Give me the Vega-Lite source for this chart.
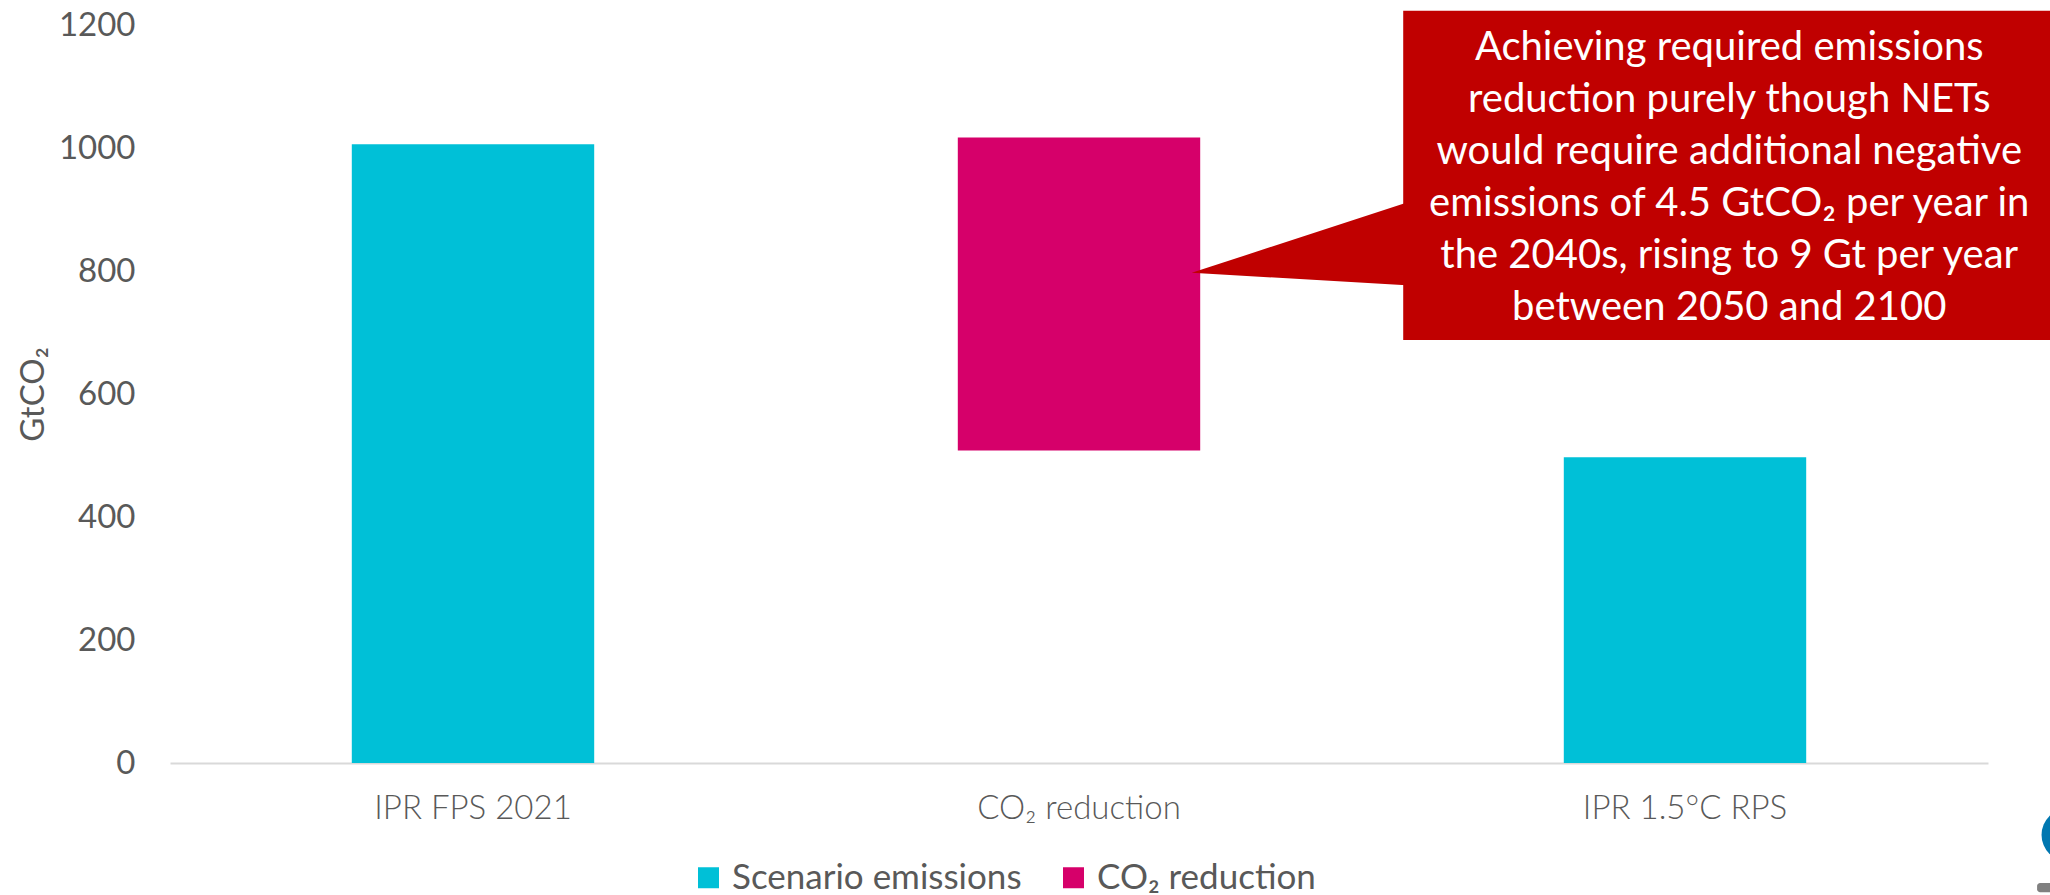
{
  "$schema": "https://vega.github.io/schema/vega-lite/v6.json",
  "autosize": {"type": "none"},
  "width": 1818,
  "height": 738,
  "padding": {"left": 170, "top": 25, "right": 62, "bottom": 132},
  "background": "white",
  "config": {
    "view": {"stroke": null},
    "font": "Lato",
    "axis": {"labelFont": "Lato", "titleFont": "Lato"},
    "legend": {"labelFont": "Lato"}
  },
  "layer": [
    {
      "data": {
        "values": [
          {"category": "IPR FPS 2021", "series": "Scenario emissions", "start": 0, "end": 1006},
          {"category": "CO₂ reduction", "series": "CO₂ reduction", "start": 508, "end": 1017},
          {"category": "IPR 1.5°C RPS", "series": "Scenario emissions", "start": 0, "end": 497}
        ]
      },
      "mark": {"type": "bar"},
      "encoding": {
        "x": {
          "field": "category",
          "type": "nominal",
          "sort": null,
          "scale": {"paddingInner": 0.6, "paddingOuter": 0.3},
          "axis": {
            "title": null,
            "labelAngle": 0,
            "labelFontSize": 33,
            "labelFontWeight": 300,
            "labelColor": "#595959",
            "labelPadding": 29,
            "labelLimit": 0,
            "ticks": false,
            "domainColor": "#d9d9d9",
            "domainWidth": 2,
            "grid": false
          }
        },
        "y": {
          "field": "start",
          "type": "quantitative",
          "scale": {"domain": [0, 1200], "nice": false, "zero": true},
          "axis": {
            "title": "GtCO₂",
            "values": [0, 200, 400, 600, 800, 1000, 1200],
            "format": "d",
            "grid": false,
            "domain": false,
            "ticks": false,
            "labelFontSize": 33,
            "labelColor": "#595959",
            "labelPadding": 35,
            "titleFontSize": 33,
            "titleFontWeight": "normal",
            "titleColor": "#595959",
            "titleX": -137,
            "titleY": 369,
            "titleAngle": -90,
            "titleAlign": "center",
            "titleBaseline": "middle"
          }
        },
        "y2": {"field": "end"},
        "color": {
          "field": "series",
          "type": "nominal",
          "scale": {"domain": ["Scenario emissions", "CO₂ reduction"], "range": ["#00c0d7", "#d6006a"]},
          "legend": {
            "title": null,
            "orient": "none",
            "direction": "horizontal",
            "legendX": 521,
            "legendY": 835,
            "symbolType": "square",
            "symbolSize": 441,
            "symbolStrokeWidth": 0,
            "symbolOpacity": 1,
            "labelFontSize": 35,
            "labelColor": "#595959",
            "labelOffset": 6,
            "labelLimit": 0,
            "columnPadding": 34
          }
        }
      }
    },
    {
      "data": {
        "values": [
          {"part": "box", "x": 2.035, "x2": 3.3, "y": 1223, "y2": 688}
        ]
      },
      "mark": {"type": "rect", "color": "#c00000", "clip": false},
      "encoding": {
        "x": {"field": "x", "type": "quantitative", "scale": {"domain": [0, 3], "nice": false, "zero": false}, "axis": null},
        "x2": {"field": "x2"},
        "y": {"field": "y", "type": "quantitative"},
        "y2": {"field": "y2"}
      }
    },
    {
      "data": {
        "values": [
          {"x": 1.686, "y": 797, "y2": 797},
          {"x": 2.04, "y": 911, "y2": 777}
        ]
      },
      "mark": {"type": "area", "color": "#c00000", "opacity": 1, "clip": false},
      "encoding": {
        "x": {"field": "x", "type": "quantitative", "scale": {"domain": [0, 3], "nice": false, "zero": false}, "axis": null},
        "y": {"field": "y", "type": "quantitative"},
        "y2": {"field": "y2"}
      }
    },
    {
      "data": {
        "values": [
          {"x": 2.573, "y": 1163, "label": "Achieving required emissions\nreduction purely though NETs\nwould require additional negative\nemissions of 4.5 GtCO₂ per year in\nthe 2040s, rising to 9 Gt per year\nbetween 2050 and 2100"}
        ]
      },
      "mark": {"type": "text", "color": "white", "font": "Lato", "fontSize": 40, "lineHeight": 52, "lineBreak": "\n", "align": "center", "baseline": "middle", "clip": false},
      "encoding": {
        "x": {"field": "x", "type": "quantitative", "scale": {"domain": [0, 3], "nice": false, "zero": false}, "axis": null},
        "y": {"field": "y", "type": "quantitative"},
        "text": {"field": "label"}
      }
    },
    {
      "data": {"values": [{"x": 3.132, "y": -117}]},
      "mark": {"type": "point", "shape": "circle", "filled": true, "color": "#0077b0", "size": 2800, "opacity": 1, "clip": false},
      "encoding": {
        "x": {"field": "x", "type": "quantitative", "scale": {"domain": [0, 3], "nice": false, "zero": false}, "axis": null},
        "y": {"field": "y", "type": "quantitative"}
      }
    },
    {
      "data": {"values": [{"x": 3.081, "x2": 3.2, "y": -195, "y2": -210}]},
      "mark": {"type": "rect", "color": "#808080", "cornerRadius": 3, "clip": false},
      "encoding": {
        "x": {"field": "x", "type": "quantitative", "scale": {"domain": [0, 3], "nice": false, "zero": false}, "axis": null},
        "x2": {"field": "x2"},
        "y": {"field": "y", "type": "quantitative"},
        "y2": {"field": "y2"}
      }
    }
  ],
  "resolve": {"scale": {"x": "independent"}}
}
